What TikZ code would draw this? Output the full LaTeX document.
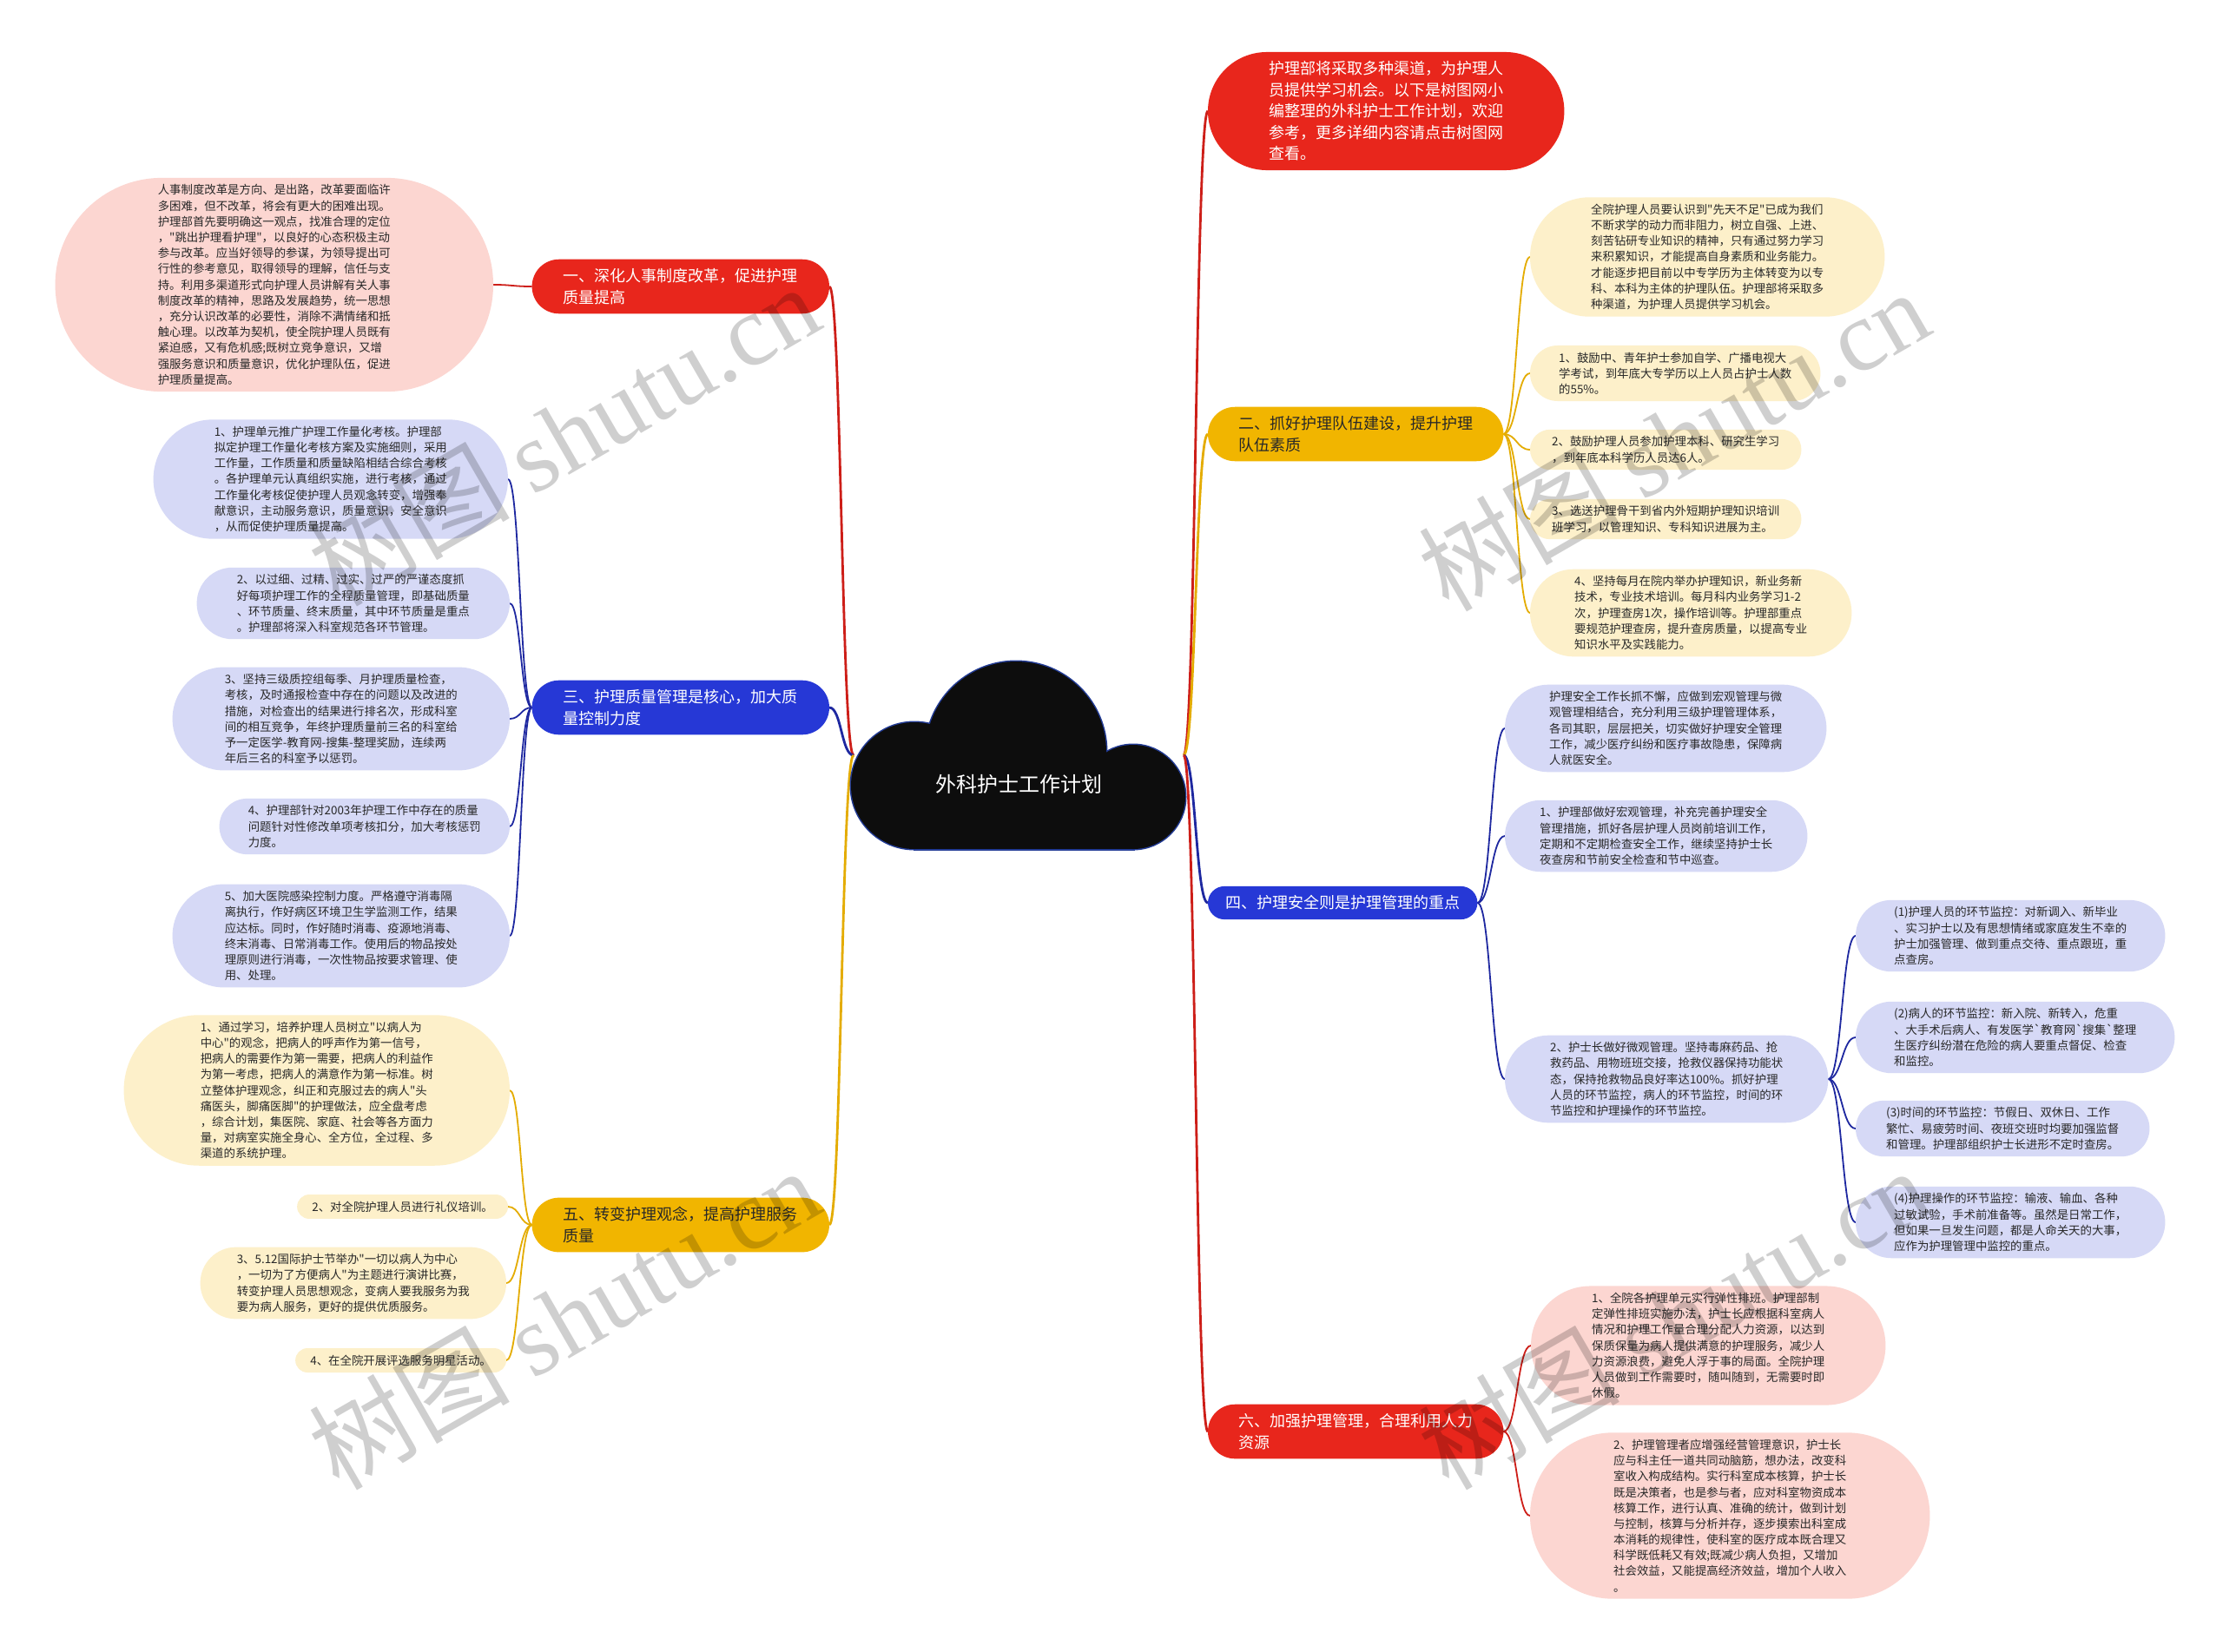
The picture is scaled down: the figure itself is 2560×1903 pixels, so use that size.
\documentclass[tikz,border=0pt]{standalone}
\usepackage{fontspec}
\setmainfont{Noto Sans CJK SC}
\newfontfamily\cjk{Noto Sans CJK SC}
\newfontfamily\wmserif{Liberation Serif}
\usetikzlibrary{calc,backgrounds}
\definecolor{redB}{RGB}{232,38,28}
\definecolor{blueB}{RGB}{38,56,214}
\definecolor{yellowB}{RGB}{241,181,0}
\definecolor{redL}{RGB}{205,30,24}
\definecolor{blueL}{RGB}{30,40,160}
\definecolor{yellowL}{RGB}{228,172,0}
\definecolor{pinkF}{RGB}{252,214,209}
\definecolor{lavF}{RGB}{214,217,246}
\definecolor{creamF}{RGB}{253,240,202}
\definecolor{txt}{RGB}{40,40,40}
\definecolor{cloudB}{RGB}{35,60,150}
\newcommand\mypill[2]{\fill[#2] let \p1=(#1.north east), \p2=(#1.south west), \n1={0.499*(\y1-\y2)} in [rounded corners=\n1] (\x2,\y1) rectangle (\x1,\y2);}
\begin{document}
\begin{tikzpicture}[x=1pt,y=-1pt,
 leaf/.style={rectangle, align=left, inner ysep=7.5pt, text=txt, font=\cjk\fontsize{13.4}{18.2}\selectfont},
 branch/.style={rectangle, align=left, inner ysep=10.5pt, font=\cjk\fontsize{18}{24.5}\selectfont},
 wbranch/.style={branch, text=white},
 dbranch/.style={branch, text=txt},
 sconn/.style={to path={let \p1=(\tikztostart), \p2=(\tikztotarget) in .. controls ({0.5*\x1+0.5*\x2},\y1) and ({0.5*\x1+0.5*\x2},\y2) .. (\tikztotarget)}},
 mainline/.style={sconn, line width=2.8pt},
 subline/.style={sconn, line width=1.8pt},
 wm/.style={font=\cjk\fontsize{116}{120}\selectfont, text=black, text opacity=0.19, rotate=30},
]
\useasboundingbox (0,0) rectangle (2560,1903);

% ---------- central cloud ----------
\draw[cloudB, line width=3pt] (1053,905) circle[radius=73];
\draw[cloudB, line width=3pt] (1170,866) circle[radius=104];
\draw[cloudB, line width=3pt] (1305,918) circle[radius=60];
\draw[cloudB, line width=3pt] (1053,880) rectangle (1305,978);
\fill[black!95] (1053,905) circle[radius=73];
\fill[black!95] (1170,866) circle[radius=104];
\fill[black!95] (1305,918) circle[radius=60];
\fill[black!95] (1053,880) rectangle (1305,978);
\node[font=\cjk\fontsize{24}{28}\selectfont, text=white] (center) at (1173,903) {外科护士工作计划};
\coordinate (cl) at (983,870);
\coordinate (cr) at (1363,870);

% ---------- branches ----------
\node[wbranch, inner xsep=36pt, anchor=east] (b1) at (955,330) {一、深化人事制度改革，促进护理\\质量提高};
\node[wbranch, inner xsep=36pt, anchor=east] (b3) at (955,815) {三、护理质量管理是核心，加大质\\量控制力度};
\node[dbranch, inner xsep=36pt, anchor=east] (b5) at (955,1411) {五、转变护理观念，提高护理服务\\质量};
\node[wbranch, inner xsep=70pt, anchor=west] (r0) at (1391,128) {护理部将采取多种渠道，为护理人\\员提供学习机会。以下是树图网小\\编整理的外科护士工作计划，欢迎\\参考，更多详细内容请点击树图网\\查看。};
\node[dbranch, inner xsep=35pt, anchor=west] (b2) at (1391,500) {二、抓好护理队伍建设，提升护理\\队伍素质};
\node[wbranch, inner xsep=20pt, anchor=west] (b4) at (1391,1040) {四、护理安全则是护理管理的重点};
\node[wbranch, inner xsep=35pt, anchor=west] (b6) at (1391,1649) {六、加强护理管理，合理利用人力\\资源};

% ---------- left leaves ----------
\node[leaf, inner xsep=118pt, anchor=east] (L1) at (568,328) {人事制度改革是方向、是出路，改革要面临许\\多困难，但不改革，将会有更大的困难出现。\\护理部首先要明确这一观点，找准合理的定位\\，"跳出护理看护理"，以良好的心态积极主动\\参与改革。应当好领导的参谋，为领导提出可\\行性的参考意见，取得领导的理解，信任与支\\持。利用多渠道形式向护理人员讲解有关人事\\制度改革的精神，思路及发展趋势，统一思想\\，充分认识改革的必要性，消除不满情绪和抵\\触心理。以改革为契机，使全院护理人员既有\\紧迫感，又有危机感;既树立竞争意识，又增\\强服务意识和质量意识，优化护理队伍，促进\\护理质量提高。};

\node[leaf, inner xsep=70pt, anchor=east] (B1) at (585,552) {1、护理单元推广护理工作量化考核。护理部\\拟定护理工作量化考核方案及实施细则，采用\\工作量，工作质量和质量缺陷相结合综合考核\\。各护理单元认真组织实施，进行考核，通过\\工作量化考核促使护理人员观念转变，增强奉\\献意识，主动服务意识，质量意识，安全意识\\，从而促使护理质量提高。};
\node[leaf, inner xsep=46pt, anchor=east] (B2) at (587,695) {2、以过细、过精、过实、过严的严谨态度抓\\好每项护理工作的全程质量管理，即基础质量\\、环节质量、终末质量，其中环节质量是重点\\。护理部将深入科室规范各环节管理。};
\node[leaf, inner xsep=60pt, anchor=east] (B3) at (587,828) {3、坚持三级质控组每季、月护理质量检查，\\考核，及时通报检查中存在的问题以及改进的\\措施，对检查出的结果进行排名次，形成科室\\间的相互竞争，年终护理质量前三名的科室给\\予一定医学-教育网-搜集-整理奖励，连续两\\年后三名的科室予以惩罚。};
\node[leaf, inner xsep=33pt, anchor=east] (B4) at (587,952) {4、护理部针对2003年护理工作中存在的质量\\问题针对性修改单项考核扣分，加大考核惩罚\\力度。};
\node[leaf, inner xsep=60pt, anchor=east] (B5) at (587,1078) {5、加大医院感染控制力度。严格遵守消毒隔\\离执行，作好病区环境卫生学监测工作，结果\\应达标。同时，作好随时消毒、疫源地消毒、\\终末消毒、日常消毒工作。使用后的物品按处\\理原则进行消毒，一次性物品按要求管理、使\\用、处理。};

\node[leaf, inner xsep=88pt, anchor=east] (Y1) at (587,1256) {1、通过学习，培养护理人员树立"以病人为\\中心"的观念，把病人的呼声作为第一信号，\\把病人的需要作为第一需要，把病人的利益作\\为第一考虑，把病人的满意作为第一标准。树\\立整体护理观念，纠正和克服过去的病人"头\\痛医头，脚痛医脚"的护理做法，应全盘考虑\\，综合计划，集医院、家庭、社会等各方面力\\量，对病室实施全身心、全方位，全过程、多\\渠道的系统护理。};
\node[leaf, inner xsep=17pt, anchor=east] (Y2) at (585,1390) {2、对全院护理人员进行礼仪培训。};
\node[leaf, inner xsep=42pt, anchor=east] (Y3) at (583,1478) {3、5.12国际护士节举办"一切以病人为中心\\，一切为了方便病人"为主题进行演讲比赛，\\转变护理人员思想观念，变病人要我服务为我\\要为病人服务，更好的提供优质服务。};
\node[leaf, inner xsep=17pt, anchor=east] (Y4) at (583,1567) {4、在全院开展评选服务明星活动。};

% ---------- right leaves ----------
\node[leaf, inner xsep=70pt, anchor=west] (RY0) at (1762,296) {全院护理人员要认识到"先天不足"已成为我们\\不断求学的动力而非阻力，树立自强、上进、\\刻苦钻研专业知识的精神，只有通过努力学习\\来积累知识，才能提高自身素质和业务能力。\\才能逐步把目前以中专学历为主体转变为以专\\科、本科为主体的护理队伍。护理部将采取多\\种渠道，为护理人员提供学习机会。};
\node[leaf, inner xsep=33pt, anchor=west] (RY1) at (1762,430) {1、鼓励中、青年护士参加自学、广播电视大\\学考试，到年底大专学历以上人员占护士人数\\的55\%。};
\node[leaf, inner xsep=25pt, anchor=west] (RY2) at (1762,518) {2、鼓励护理人员参加护理本科、研究生学习\\，到年底本科学历人员达6人。};
\node[leaf, inner xsep=25pt, anchor=west] (RY3) at (1762,598) {3、选送护理骨干到省内外短期护理知识培训\\班学习，以管理知识、专科知识进展为主。};
\node[leaf, inner xsep=51pt, anchor=west] (RY4) at (1762,706) {4、坚持每月在院内举办护理知识，新业务新\\技术，专业技术培训。每月科内业务学习1-2\\次，护理查房1次，操作培训等。护理部重点\\要规范护理查房，提升查房质量，以提高专业\\知识水平及实践能力。};

\node[leaf, inner xsep=51pt, anchor=west] (RB0) at (1733,839) {护理安全工作长抓不懈，应做到宏观管理与微\\观管理相结合，充分利用三级护理管理体系，\\各司其职，层层把关，切实做好护理安全管理\\工作，减少医疗纠纷和医疗事故隐患，保障病\\人就医安全。};
\node[leaf, inner xsep=40pt, anchor=west] (RB1) at (1733,963) {1、护理部做好宏观管理，补充完善护理安全\\管理措施，抓好各层护理人员岗前培训工作，\\定期和不定期检查安全工作，继续坚持护士长\\夜查房和节前安全检查和节中巡查。};
\node[leaf, inner xsep=52pt, anchor=west] (RB2) at (1733,1243) {2、护士长做好微观管理。坚持毒麻药品、抢\\救药品、用物班班交接，抢救仪器保持功能状\\态，保持抢救物品良好率达100\%。抓好护理\\人员的环节监控，病人的环节监控，时间的环\\节监控和护理操作的环节监控。};

\node[leaf, inner xsep=44pt, anchor=west] (C1) at (2137,1078) {(1)护理人员的环节监控：对新调入、新毕业\\、实习护士以及有思想情绪或家庭发生不幸的\\护士加强管理、做到重点交待、重点跟班，重\\点查房。};
\node[leaf, inner xsep=44pt, anchor=west] (C2) at (2137,1195) {(2)病人的环节监控：新入院、新转入，危重\\、大手术后病人、有发医学`教育网`搜集`整理\\生医疗纠纷潜在危险的病人要重点督促、检查\\和监控。};
\node[leaf, inner xsep=35pt, anchor=west] (C3) at (2137,1300) {(3)时间的环节监控：节假日、双休日、工作\\繁忙、易疲劳时间、夜班交班时均要加强监督\\和管理。护理部组织护士长进形不定时查房。};
\node[leaf, inner xsep=44pt, anchor=west] (C4) at (2137,1408) {(4)护理操作的环节监控：输液、输血、各种\\过敏试验，手术前准备等。虽然是日常工作，\\但如果一旦发生问题，都是人命关天的大事，\\应作为护理管理中监控的重点。};

\node[leaf, inner xsep=70pt, anchor=west] (RP1) at (1763,1550) {1、全院各护理单元实行弹性排班。护理部制\\定弹性排班实施办法，护士长应根据科室病人\\情况和护理工作量合理分配人力资源，以达到\\保质保量为病人提供满意的护理服务，减少人\\力资源浪费，避免人浮于事的局面。全院护理\\人员做到工作需要时，随叫随到，无需要时即\\休假。};
\node[leaf, inner xsep=96pt, anchor=west] (RP2) at (1762,1746) {2、护理管理者应增强经营管理意识，护士长\\应与科主任一道共同动脑筋，想办法，改变科\\室收入构成结构。实行科室成本核算，护士长\\既是决策者，也是参与者，应对科室物资成本\\核算工作，进行认真、准确的统计，做到计划\\与控制，核算与分析并存，逐步摸索出科室成\\本消耗的规律性，使科室的医疗成本既合理又\\科学既低耗又有效;既减少病人负担，又增加\\社会效益，又能提高经济效益，增加个人收入\\。};

% ---------- connectors and node backgrounds ----------
\begin{pgfonlayer}{background}
\fill[white] (0,0) rectangle (2560,1903);
\draw[mainline, redL] (cl) to (b1.east);
\draw[mainline, blueL] (cl) to (b3.east);
\draw[mainline, yellowL] (cl) to (b5.east);
\draw[mainline, redL] (cr) to (r0.west);
\draw[mainline, yellowL] (cr) to (b2.west);
\draw[mainline, blueL] (cr) to (b4.west);
\draw[mainline, redL] (cr) to (b6.west);

\draw[subline, redL] (b1.west) to (L1.east);
\foreach \nd in {B1,B2,B3,B4,B5} {\draw[subline, blueL] (b3.west) to (\nd.east);}
\foreach \nd in {Y1,Y2,Y3,Y4} {\draw[subline, yellowL] (b5.west) to (\nd.east);}
\foreach \nd in {RY0,RY1,RY2,RY3,RY4} {\draw[subline, yellowL] (b2.east) to (\nd.west);}
\foreach \nd in {RB0,RB1,RB2} {\draw[subline, blueL] (b4.east) to (\nd.west);}
\foreach \nd in {C1,C2,C3,C4} {\draw[subline, blueL] (RB2.east) to (\nd.west);}
\foreach \nd in {RP1,RP2} {\draw[subline, redL] (b6.east) to (\nd.west);}

\foreach \nd in {b1,r0,b6} {\mypill{\nd}{redB}}
\foreach \nd in {b3,b4} {\mypill{\nd}{blueB}}
\foreach \nd in {b5,b2} {\mypill{\nd}{yellowB}}
\foreach \nd in {L1,RP1,RP2} {\mypill{\nd}{pinkF}}
\foreach \nd in {B1,B2,B3,B4,B5,RB0,RB1,RB2,C1,C2,C3,C4} {\mypill{\nd}{lavF}}
\foreach \nd in {Y1,Y2,Y3,Y4,RY0,RY1,RY2,RY3,RY4} {\mypill{\nd}{creamF}}
\end{pgfonlayer}

% ---------- watermarks ----------
\node[wm] (wm1) at (649,500) {树图 {\wmserif shutu.cn}};
\node[wm] (wm2) at (1927,506) {树图 {\wmserif shutu.cn}};
\node[wm] (wm3) at (649,1518) {树图 {\wmserif shutu.cn}};
\node[wm] (wm4) at (1927,1518) {树图 {\wmserif shutu.cn}};
\end{tikzpicture}
\end{document}
